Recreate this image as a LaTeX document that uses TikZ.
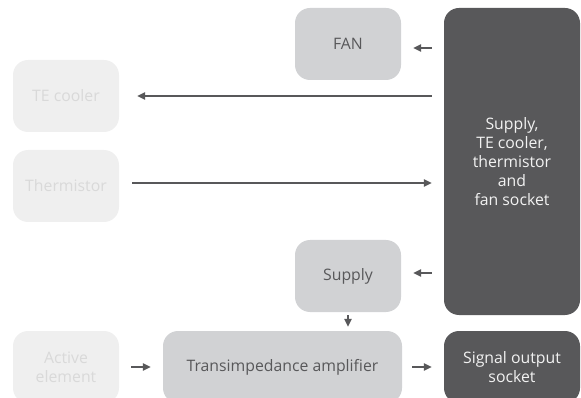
\documentclass[tikz,border=0pt]{standalone}
\usepackage{fontspec}
\setmainfont{Open Sans}
\usetikzlibrary{arrows.meta}

\definecolor{boxlight}{HTML}{EFEFEF}
\definecolor{txtlight}{HTML}{D9D9D9}
\definecolor{boxmid}{HTML}{D1D2D4}
\definecolor{txtmid}{HTML}{58585A}
\definecolor{boxdark}{HTML}{58585A}
\definecolor{txtdark}{HTML}{F2F2F2}

\begin{document}
\begin{tikzpicture}[x=1pt,y=-1pt,
    box/.style={rounded corners=15pt, inner sep=0pt, align=center,
        font=\fontsize{15.8}{19}\selectfont, minimum height=72pt},
    lightbox/.style={box, fill=boxlight, text=txtlight, minimum width=106pt},
    midbox/.style={box, fill=boxmid, text=txtmid, minimum width=106pt},
    darkbox/.style={box, fill=boxdark, text=txtdark, minimum width=136pt},
    arr/.style={-{Triangle[length=8pt,width=7.5pt]}, line width=1.3pt, draw=boxdark}
]
    \useasboundingbox (0,0) rectangle (581,398);
    \clip (0,0) rectangle (581,398);

    % left column
    \node[lightbox] (teco)  at (66,96)  {TE cooler};
    \node[lightbox] (therm) at (66,186) {Thermistor};
    \node[lightbox] (act)   at (66,367) {Active\\element};

    % middle column
    \node[midbox] (fan)  at (348,44)  {FAN};
    \node[midbox] (supp) at (348,276) {Supply};
    \node[midbox, minimum width=239pt] (tia) at (282.5,367) {Transimpedance amplifier};

    % right column
    \node[darkbox, minimum height=307pt] (sock) at (512,161.5)
        {Supply,\\TE cooler,\\thermistor\\and\\fan socket};
    \node[darkbox] (sig) at (512,367) {Signal output\\socket};

    % arrow ends, slightly off the box centres
    \coordinate (fanin)   at ([yshift=-4pt]fan.east);
    \coordinate (thermout) at ([yshift=3pt]therm.east);
    \coordinate (suppin)  at ([yshift=3pt]supp.east);

    % connectors
    \draw[arr, shorten <=12pt, shorten >=12pt] (sock.west |- fanin) -- (fanin);
    \draw[arr, shorten <=12pt, shorten >=18pt] (sock.west |- teco.east) -- (teco.east);
    \draw[arr, shorten <=13pt, shorten >=12pt] (thermout) -- (sock.west |- thermout);
    \draw[arr, shorten <=12pt, shorten >=12pt] (sock.west |- suppin) -- (suppin);
    \draw[arr, shorten <=3pt, shorten >=4pt] (supp.south) -- (supp.south |- tia.north);
    \draw[arr, shorten <=12pt, shorten >=12pt] (act.east) -- (tia.west);
    \draw[arr, shorten <=10pt, shorten >=12pt] (tia.east) -- (sig.west);

\end{tikzpicture}
\end{document}
